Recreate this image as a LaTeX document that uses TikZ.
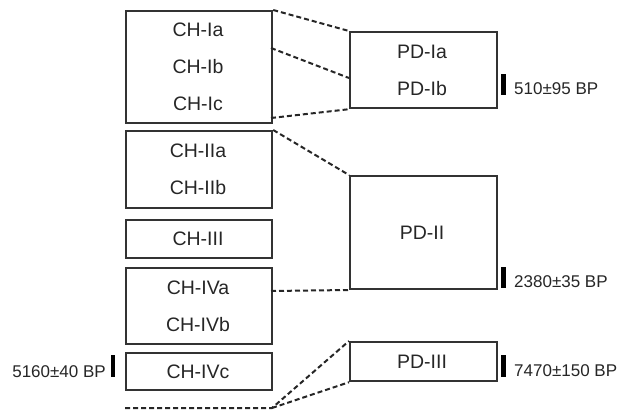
\documentclass[tikz,border=0pt]{standalone}
\usepackage{fontspec}
\setmainfont{Liberation Sans}
\begin{document}
\begin{tikzpicture}[x=1pt,y=-1pt,
  box/.style={draw=black!80,line width=2.2pt,rectangle,inner sep=0pt,anchor=north west},
  lbl/.style={text=black!85,font=\fontsize{19.5}{22}\selectfont,inner sep=0pt},
  date/.style={text=black!85,font=\fontsize{17}{20}\selectfont,inner sep=0pt},
  bar/.style={fill=black,draw=none},
  link/.style={draw=black!85,line width=2pt,dash pattern=on 5pt off 3pt}]
\useasboundingbox (0,0) rectangle (621,410);
% CH boxes
\node[box,minimum width=146pt,minimum height=112pt] (ch1) at (125,10) {};
\node[box,minimum width=146pt,minimum height=77pt] (ch2) at (125,130) {};
\node[box,minimum width=146pt,minimum height=38pt] (ch3) at (125,219) {};
\node[box,minimum width=146pt,minimum height=76pt] (ch4) at (125,267) {};
\node[box,minimum width=146pt,minimum height=37pt] (ch5) at (125,352) {};
% PD boxes
\node[box,minimum width=147pt,minimum height=76pt] (pd1) at (349,31) {};
\node[box,minimum width=147pt,minimum height=113pt] (pd2) at (349,175) {};
\node[box,minimum width=147pt,minimum height=39pt] (pd3) at (349,341) {};
% labels
\node[lbl] (l1a) at (198,30) {CH-Ia};
\node[lbl] (l1b) at (198,67) {CH-Ib};
\node[lbl] (l1c) at (198,104) {CH-Ic};
\node[lbl] (l2a) at (198,151) {CH-IIa};
\node[lbl] (l2b) at (198,188) {CH-IIb};
\node[lbl] (l3) at (198,239) {CH-III};
\node[lbl] (l4a) at (198,288) {CH-IVa};
\node[lbl] (l4b) at (198,325) {CH-IVb};
\node[lbl] (l4c) at (198,372) {CH-IVc};
\node[lbl] (p1a) at (422,52) {PD-Ia};
\node[lbl] (p1b) at (422,89) {PD-Ib};
\node[lbl] (p2) at (422,233) {PD-II};
\node[lbl] (p3) at (422,362) {PD-III};
% bars and dates
\fill[bar] (501,74) rectangle (505.5,95);
\fill[bar] (501,267) rectangle (505.5,288);
\fill[bar] (501,355) rectangle (505.5,377);
\fill[bar] (110.5,355) rectangle (115,377);
\node[date,anchor=west] (d1) at (514,89) {510±95 BP};
\node[date,anchor=west] (d2) at (514,282) {2380±35 BP};
\node[date,anchor=west] (d3) at (514,371) {7470±150 BP};
\node[date,anchor=east] (d4) at (106,372) {5160±40 BP};
% connectors
\coordinate (c1b) at (271,48);
\coordinate (p1w) at (349,78);
\coordinate (c1c) at (271,118);
\coordinate (c4e) at (271,291);
\coordinate (p2w) at (349,290);
\coordinate (b0) at (125,408);
\coordinate (b1) at (272,408);
\draw[link] (ch1.north east) -- (pd1.north west);
\draw[link] (c1b) -- (p1w);
\draw[link] (c1c) -- (pd1.south west);
\draw[link] (ch2.north east) -- (pd2.north west);
\draw[link] (c4e) -- (p2w);
\draw[link] (b0) -- (b1) -- (pd3.north west);
\draw[link] (b1) -- (pd3.south west);
\end{tikzpicture}
\end{document}
